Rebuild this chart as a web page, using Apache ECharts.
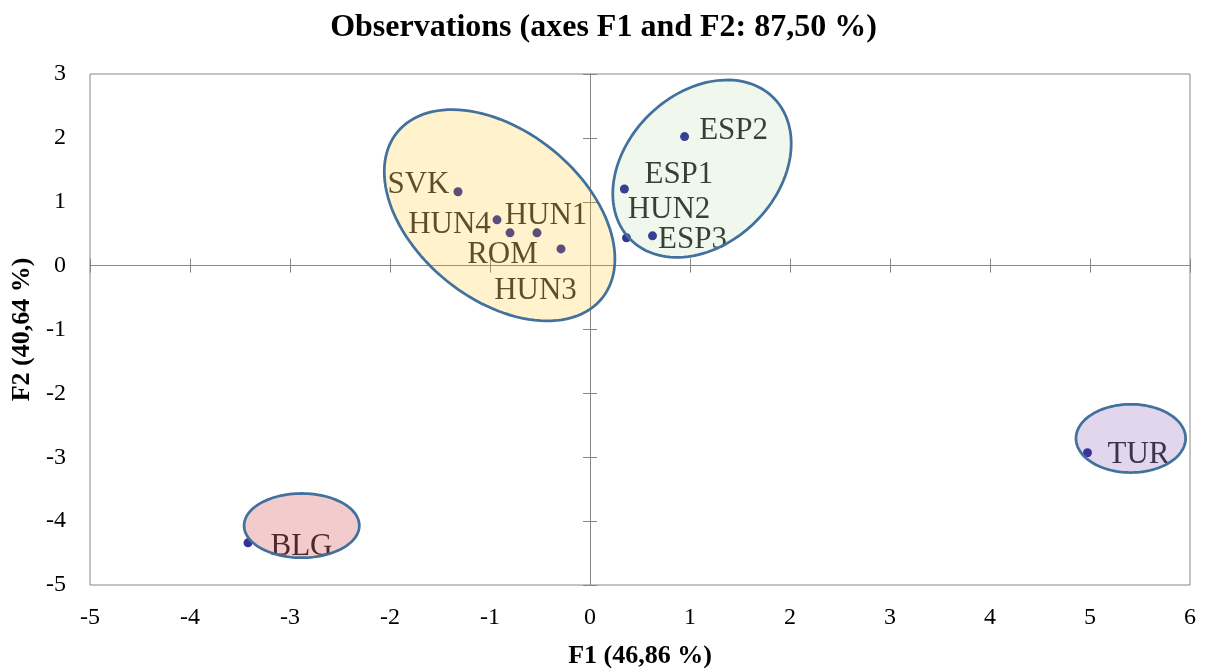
<!DOCTYPE html>
<html>
<head>
<meta charset="utf-8">
<script src="https://cdn.jsdelivr.net/npm/echarts@6/dist/echarts.min.js"></script>
<style>html,body{margin:0;padding:0;background:#fff;}#c{width:1207px;height:668px;}</style>
</head>
<body>
<div id="c"></div>
<script>
// ---- data ----
const obsNames = ['ESP1', 'ESP2', 'ESP3', 'HUN1', 'HUN2', 'HUN3', 'HUN4', 'ROM', 'SVK', 'TUR', 'BLG'];
const f1Values = [0.344, 0.946, 0.625, -0.53, 0.365, -0.29, -0.93, -0.80, -1.32, 4.975, -3.42];
const f2Values = [1.20, 2.02, 0.466, 0.513, 0.435, 0.262, 0.717, 0.513, 1.157, -2.93, -4.34];

// group ellipses (centre in F1/F2 units, semi-axes in F1 units, screen angle in degrees)
const groupNames = ['CEE', 'ESP', 'BLG', 'TUR'];
const groupCenterF1 = [-0.904, 1.12, -2.883, 5.408];
const groupCenterF2 = [0.788, 1.518, -4.07, -2.705];
const groupSemiA = [1.318, 1.007, 0.576, 0.548];
const groupSemiB = [0.842, 0.754, 0.321, 0.341];
const groupAngle = [39, -44.4, 0, 0];

const xMin = -5, xMax = 6, yMin = -5, yMax = 3, tickStep = 1;
const titleText = 'Observations (axes F1 and F2: 87,50 %)';
const xName = 'F1 (46,86 %)';
const yName = 'F2 (40,64 %)';

// ---- styles ----
const FONT = "'Liberation Serif', 'Times New Roman', serif";
const groupFill = ['rgba(255,192,0,0.2)', 'rgba(112,173,71,0.1)', 'rgba(192,0,0,0.2)', 'rgba(112,48,160,0.2)'];
const labelOffsets = {
  ESP1: [54.5, -14], ESP2: [49, -6], ESP3: [40, 4], HUN1: [9, -17], HUN2: [42.5, -28],
  HUN3: [-25.5, 42], HUN4: [-47.5, 5], ROM: [-7.5, 22], SVK: [-39.5, -7], TUR: [51, 2], BLG: [53.5, 4]
};
const axisGray = '#878787';

const chart = echarts.init(document.getElementById('c'), null, {renderer: 'canvas'});

const scatterData = obsNames.map((n, i) => ({
  name: n,
  value: [f1Values[i], f2Values[i]],
  label: {offset: labelOffsets[n]}
}));
const ellipseData = groupNames.map((g, i) => ({
  name: g,
  value: [groupCenterF1[i], groupCenterF2[i], groupSemiA[i], groupSemiB[i], groupAngle[i]]
}));

function baseX(extra) {
  return Object.assign({
    type: 'value', min: xMin, max: xMax, interval: tickStep, gridIndex: 0,
    splitLine: {show: false}, axisLabel: {show: false}, axisTick: {show: false}, axisLine: {show: false}
  }, extra);
}
function baseY(extra) {
  return Object.assign({
    type: 'value', min: yMin, max: yMax, interval: tickStep, gridIndex: 0,
    splitLine: {show: false}, axisLabel: {show: false}, axisTick: {show: false}, axisLine: {show: false}
  }, extra);
}

const option = {
  backgroundColor: '#fff',
  animation: false,
  title: {
    text: titleText, left: 'center', top: 7,
    textStyle: {fontFamily: FONT, fontSize: 32, fontWeight: 'bold', color: '#000'}
  },
  grid: {
    left: 90, right: 17, top: 74, bottom: 83, containLabel: false, outerBoundsMode: 'none',
    show: true, borderColor: axisGray, borderWidth: 1, backgroundColor: 'transparent'
  },
  xAxis: [
    baseX({
      position: 'bottom',
      axisLine: {show: false, onZero: false},
      axisLabel: {show: true, margin: 21, fontFamily: FONT, fontSize: 24, color: '#000'},
      name: xName, nameLocation: 'middle', nameGap: 58,
      nameTextStyle: {fontFamily: FONT, fontSize: 26, fontWeight: 'bold', color: '#000'}
    }),
    baseX({
      position: 'bottom',
      axisLine: {show: true, onZero: true, onZeroAxisIndex: 1, lineStyle: {color: axisGray, width: 1}},
      axisTick: {show: true, inside: true, length: 7, lineStyle: {color: axisGray, width: 1}}
    }),
    baseX({
      position: 'bottom',
      axisLine: {show: true, onZero: true, onZeroAxisIndex: 2, lineStyle: {color: axisGray, width: 1}},
      axisTick: {show: true, inside: false, length: 7, lineStyle: {color: axisGray, width: 1}}
    })
  ],
  yAxis: [
    baseY({
      position: 'left',
      axisLine: {show: false, onZero: false},
      axisLabel: {show: true, margin: 24, fontFamily: FONT, fontSize: 24, color: '#000'},
      name: yName, nameLocation: 'middle', nameGap: 50, nameRotate: 90,
      nameTextStyle: {fontFamily: FONT, fontSize: 26, fontWeight: 'bold', color: '#000'}
    }),
    baseY({
      position: 'left',
      axisLine: {show: true, onZero: true, onZeroAxisIndex: 1, lineStyle: {color: axisGray, width: 1}},
      axisTick: {show: true, inside: true, length: 7, lineStyle: {color: axisGray, width: 1}}
    }),
    baseY({
      position: 'left',
      axisLine: {show: true, onZero: true, onZeroAxisIndex: 2, lineStyle: {color: axisGray, width: 1}},
      axisTick: {show: true, inside: false, length: 7, lineStyle: {color: axisGray, width: 1}}
    })
  ],
  series: [
    {
      type: 'scatter', xAxisIndex: 0, yAxisIndex: 0, z: 3,
      symbol: 'circle', symbolSize: 9,
      itemStyle: {color: '#000080'},
      label: {
        show: true, position: 'inside', align: 'center', verticalAlign: 'middle',
        formatter: '{b}', fontFamily: FONT, fontSize: 31, color: '#000'
      },
      emphasis: {disabled: true},
      data: scatterData
    },
    {
      type: 'custom', xAxisIndex: 0, yAxisIndex: 0, z: 10, silent: true,
      renderItem: function (params, api) {
        const c = api.coord([api.value(0), api.value(1)]);
        const s = api.size([1, 1]);
        const a = api.value(2) * s[0];
        const b = api.value(3) * s[0];
        const th = api.value(4) * Math.PI / 180;
        const pts = [];
        const N = 120;
        for (let k = 0; k < N; k++) {
          const t = k / N * Math.PI * 2;
          const ex = a * Math.cos(t), ey = b * Math.sin(t);
          pts.push([c[0] + ex * Math.cos(th) - ey * Math.sin(th), c[1] + ex * Math.sin(th) + ey * Math.cos(th)]);
        }
        return {
          type: 'polygon',
          shape: {points: pts},
          style: {fill: groupFill[params.dataIndex], stroke: '#41719C', lineWidth: 2.75}
        };
      },
      data: ellipseData
    }
  ]
};
chart.setOption(option);
</script>
</body>
</html>
